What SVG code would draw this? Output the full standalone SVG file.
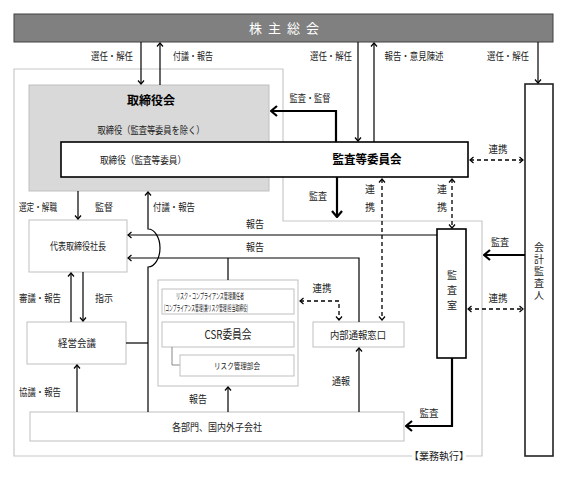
<svg xmlns="http://www.w3.org/2000/svg" width="581" height="484" viewBox="0 0 581 484">
<style>
text{font-family:"Noto Sans CJK JP","Noto Sans",sans-serif;font-size:10px;fill:#222;text-anchor:middle}
.b{font-weight:bold;fill:#000}
.s{font-size:8.5px}
.v{writing-mode:vertical-rl}
.lb{fill:#fff;stroke:#bfbfbf;stroke-width:1}
.bb{fill:#fff;stroke:#000;stroke-width:1.6}
.ln{fill:none;stroke:#000;stroke-width:1.2}
.th{fill:none;stroke:#000;stroke-width:2.2}
.ds{fill:none;stroke:#000;stroke-width:1.3;stroke-dasharray:4 3}
</style>
<defs>
<marker id="a" viewBox="-6 -5 7 10" refX="0" refY="0" markerWidth="7" markerHeight="10" markerUnits="userSpaceOnUse" orient="auto-start-reverse">
<path d="M-3.5,-3 L0,0 L-3.5,3" fill="none" stroke="#000" stroke-width="1.2"/>
</marker>
<marker id="t" viewBox="-8 -7 9 14" refX="0" refY="0" markerWidth="9" markerHeight="14" markerUnits="userSpaceOnUse" orient="auto-start-reverse">
<path d="M-6,-5 L0,0 L-6,5" fill="none" stroke="#000" stroke-width="2.2"/>
</marker>
</defs>

<!-- frame -->
<g id="frame">
<path d="M14,69 H283 V221 H482 V456 H14 Z" fill="none" stroke="#c8c8c8" stroke-width="1.2"/>
<rect x="412" y="450" width="54" height="12" fill="#fff"/>
<text x="439" y="460">【業務執行】</text>
</g>

<g id="shareholders">
<rect x="14" y="14" width="539" height="28" fill="#808080" stroke="#404040" stroke-width="1"/>
<text x="284" y="33" style="fill:#fff;font-size:13px" textLength="70" lengthAdjust="spacing">株 主 総 会</text>
</g>

<g id="board">
<rect x="29" y="85" width="240" height="106" fill="#d9d9d9" stroke="#bfbfbf" stroke-width="1"/>
<text class="b" x="151" y="105" style="font-size:12px">取締役会</text>
<text x="151" y="134" textLength="107" lengthAdjust="spacingAndGlyphs">取締役（監査等委員を除く）</text>
</g>

<g id="audit-committee">
<rect class="bb" x="61" y="142" width="407" height="35"/>
<text x="143" y="164" textLength="86" lengthAdjust="spacingAndGlyphs">取締役（監査等委員）</text>
<text class="b" x="367" y="164" style="font-size:12px" textLength="69" lengthAdjust="spacingAndGlyphs">監査等委員会</text>
</g>

<g id="auditor">
<rect x="525" y="84" width="28" height="372" fill="#fff" stroke="#222" stroke-width="1.6"/>
<text class="v" x="539" y="272" style="letter-spacing:2px">会計監査人</text>
</g>

<g id="president">
<rect class="lb" x="29" y="220" width="98" height="52"/>
<text x="78" y="250" textLength="56" lengthAdjust="spacingAndGlyphs">代表取締役社長</text>
</g>

<g id="mgmt-meeting">
<rect class="lb" x="27" y="322" width="99" height="42"/>
<text x="77" y="347" textLength="38" lengthAdjust="spacingAndGlyphs">経営会議</text>
</g>

<g id="risk-group">
<rect class="lb" x="158" y="280" width="140" height="106"/>
<rect class="lb" x="162" y="289" width="132" height="25"/>
<text class="s" x="210" y="299" textLength="68" lengthAdjust="spacingAndGlyphs">リスク・コンプライアンス管理責任者</text>
<text class="s" x="206" y="311" textLength="84" lengthAdjust="spacingAndGlyphs">(コンプライアンス管理(兼リスク管理)担当取締役)</text>
<rect class="lb" x="162" y="322" width="132" height="25"/>
<text x="228" y="339" style="font-size:12px" textLength="47" lengthAdjust="spacingAndGlyphs">CSR委員会</text>
<path d="M172,347 V365 H180" fill="none" stroke="#888" stroke-width="1"/>
<rect class="lb" x="180" y="355" width="114" height="21"/>
<text class="s" x="237" y="369" textLength="46" lengthAdjust="spacingAndGlyphs">リスク管理部会</text>
</g>

<g id="hotline">
<rect class="lb" x="313" y="322" width="91" height="25"/>
<text x="358" y="339" textLength="56" lengthAdjust="spacingAndGlyphs">内部通報窓口</text>
</g>

<g id="audit-office">
<rect class="bb" x="437" y="229" width="29" height="129"/>
<text class="v" x="452" y="293" style="letter-spacing:5px">監査室</text>
</g>

<g id="departments">
<rect class="lb" x="30" y="412" width="374" height="29"/>
<text x="217" y="431" textLength="90" lengthAdjust="spacingAndGlyphs">各部門、国内外子会社</text>
</g>

<g id="connectors">
<path class="ln" d="M141,42 V84" marker-end="url(#a)"/>
<path class="ln" d="M160,85 V43" marker-end="url(#a)"/>
<path class="ln" d="M358,42 V141" marker-end="url(#a)"/>
<path class="ln" d="M374,142 V43" marker-end="url(#a)"/>
<path class="ln" d="M538,42 V83" marker-end="url(#a)"/>
<path class="ln" d="M78,191 V219" marker-end="url(#a)"/>
<path class="ln" d="M148,412 V267 A12,19 0 0 0 148,229 V192" marker-end="url(#a)"/>
<path class="ln" d="M437,235 H128" marker-end="url(#a)"/>
<path class="ln" d="M359,322 V258 H128" marker-end="url(#a)"/>
<path class="ln" d="M228,258 V280"/>
<path class="ln" d="M71,322 V273" marker-end="url(#a)"/>
<path class="ln" d="M83,272 V321" marker-end="url(#a)"/>
<path class="ln" d="M77,412 V365" marker-end="url(#a)"/>
<path class="ln" d="M126,343 H148"/>
<path class="ln" d="M228,412 V387" marker-end="url(#a)"/>
<path class="ln" d="M359,412 V348" marker-end="url(#a)"/>

<path class="th" d="M336,142 V111 H271" marker-end="url(#t)"/>
<path class="th" d="M337,177 V217" marker-end="url(#t)"/>
<path class="th" d="M525,255 H484" marker-end="url(#t)"/>
<path class="th" d="M452,358 V426 H406" marker-end="url(#t)"/>

<path class="ds" d="M470,160 H523" marker-start="url(#a)" marker-end="url(#a)"/>
<path class="ds" d="M382,179 V320" marker-start="url(#a)" marker-end="url(#a)"/>
<path class="ds" d="M452,179 V228" marker-start="url(#a)" marker-end="url(#a)"/>
<path class="ds" d="M468,309 H523" marker-start="url(#a)" marker-end="url(#a)"/>
<path class="ds" d="M300,301 H339 V320" marker-start="url(#a)" marker-end="url(#a)"/>
</g>

<g id="labels">
<text x="112" y="60" textLength="42" lengthAdjust="spacingAndGlyphs">選任・解任</text>
<text x="193" y="60" textLength="40" lengthAdjust="spacingAndGlyphs">付議・報告</text>
<text x="331" y="60" textLength="42" lengthAdjust="spacingAndGlyphs">選任・解任</text>
<text x="414" y="60" textLength="59" lengthAdjust="spacingAndGlyphs">報告・意見陳述</text>
<text x="508" y="60" textLength="42" lengthAdjust="spacingAndGlyphs">選任・解任</text>
<text x="310" y="102" textLength="41" lengthAdjust="spacingAndGlyphs">監査・監督</text>
<text x="498" y="153" textLength="19" lengthAdjust="spacingAndGlyphs">連携</text>
<text x="38" y="211" textLength="38" lengthAdjust="spacingAndGlyphs">選定・解職</text>
<text x="104" y="211" textLength="18" lengthAdjust="spacingAndGlyphs">監督</text>
<text x="174" y="211" textLength="42" lengthAdjust="spacingAndGlyphs">付議・報告</text>
<text x="318" y="200" textLength="18" lengthAdjust="spacingAndGlyphs">監査</text>
<text class="v" x="370" y="202" style="letter-spacing:8px">連携</text>
<text class="v" x="442" y="202" style="letter-spacing:8px">連携</text>
<text x="255" y="228" textLength="18" lengthAdjust="spacingAndGlyphs">報告</text>
<text x="255" y="251" textLength="18" lengthAdjust="spacingAndGlyphs">報告</text>
<text x="500" y="246" textLength="18" lengthAdjust="spacingAndGlyphs">監査</text>
<text x="322" y="292" textLength="19" lengthAdjust="spacingAndGlyphs">連携</text>
<text x="498" y="302" textLength="19" lengthAdjust="spacingAndGlyphs">連携</text>
<text x="40" y="302" textLength="42" lengthAdjust="spacingAndGlyphs">審議・報告</text>
<text x="104" y="302" textLength="18" lengthAdjust="spacingAndGlyphs">指示</text>
<text x="40" y="396" textLength="42" lengthAdjust="spacingAndGlyphs">協議・報告</text>
<text x="198" y="403" textLength="18" lengthAdjust="spacingAndGlyphs">報告</text>
<text x="341" y="385" textLength="18" lengthAdjust="spacingAndGlyphs">通報</text>
<text x="429" y="417" textLength="19" lengthAdjust="spacingAndGlyphs">監査</text>
</g>
</svg>
